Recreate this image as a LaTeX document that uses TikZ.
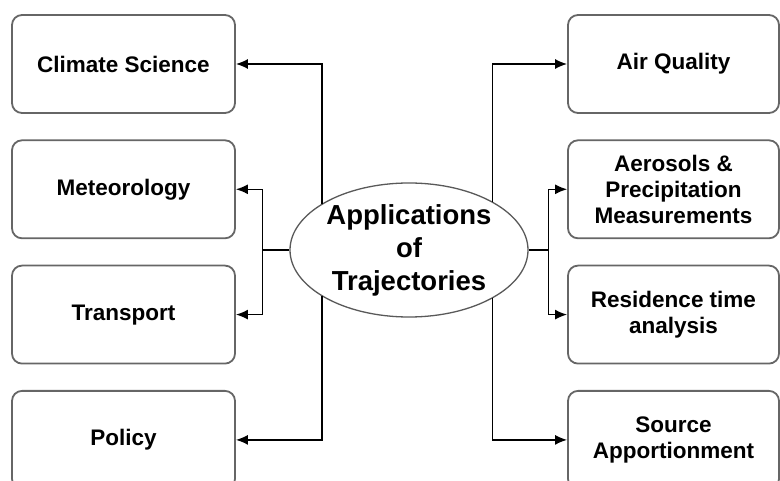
\documentclass[tikz,border=0pt]{standalone}
\usepackage{fontspec}
\setmainfont{Liberation Sans}
\usetikzlibrary{shapes.geometric, arrows.meta, positioning}

\begin{document}
\begin{tikzpicture}[
    x=1pt, y=-1pt,
    node distance=25.5pt,
    appbox/.style={rectangle, rounded corners=10pt, draw=black!60, line width=1.8pt, fill=white, minimum width=223pt, minimum height=98pt, text centered, align=center, font=\bfseries\fontsize{22.5}{26}\selectfont},
    sidebox/.style={appbox, minimum width=211pt},
    hub/.style={ellipse, draw=black!65, line width=1.3pt, fill=white, minimum width=238pt, minimum height=134pt, inner sep=0pt, align=center, font=\bfseries\fontsize{27.5}{33}\selectfont},
    link/.style={draw=black, line width=1.5pt, -{Latex[length=12pt,width=10pt]}}
]

\useasboundingbox (0,0) rectangle (780,481);
\clip (0,0) rectangle (780,481);

% Central node
\node[hub] (app) at (409,250) {Applications\\of\\Trajectories};

% Left column
\node[appbox] (climate) at (123.5,64) {Climate Science};
\node[appbox, below=of climate] (meteo) {Meteorology};
\node[appbox, below=of meteo] (transport) {Transport};
\node[appbox, below=of transport] (policy) {Policy};

% Right column
\node[sidebox] (airq) at (673.5,64) {Air Quality};
\node[sidebox, below=of airq] (aerosol) {Aerosols \&\\Precipitation\\Measurements};
\node[sidebox, below=of aerosol] (residence) {Residence time\\analysis};
\node[sidebox, below=of residence] (source) {Source\\Apportionment};

% Split points
\coordinate[left=27pt of app.west] (lsplit);
\coordinate[right=20pt of app.east] (rsplit);

% Connectors on the left
\draw[link] (app.152) |- (climate.east);
\draw[link, -] (app.west) -- (lsplit);
\draw[link] (lsplit) |- (meteo.east);
\draw[link] (lsplit) |- (transport.east);
\draw[link] (app.208) |- (policy.east);

% Connectors on the right
\draw[link] (app.30) |- (airq.west);
\draw[link, -] (app.east) -- (rsplit);
\draw[link] (rsplit) |- (aerosol.west);
\draw[link] (rsplit) |- (residence.west);
\draw[link] (app.330) |- (source.west);

\end{tikzpicture}
\end{document}
